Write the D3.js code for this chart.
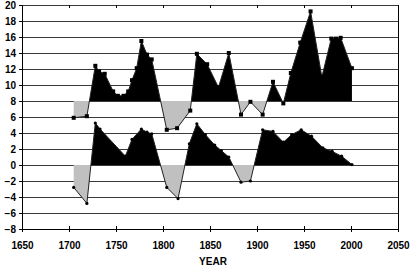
<!DOCTYPE html>
<html>
<head>
<meta charset="utf-8">
<script src="https://cdn.jsdelivr.net/npm/d3@7"></script>
<style>
  body { margin: 0; background: #fff; }
  svg text { font-family: "Liberation Sans", Arial, sans-serif; font-weight: bold; font-size: 10px; fill: #000; }
</style>
</head>
<body>
<svg id="chart" width="410" height="268"></svg>
<script>
// series
var upperYears  = [1705,1719,1728,1732,1738,1747,1752,1758,1763,1767,1772,1777,1783,1788,1804,1815,1829,1836,1847,1859,1870,1883,1893,1906,1917,1928,1936,1946,1957,1969,1979,1984,1989,2001];
var upperValues = [5.9,6.1,12.4,11.7,11.4,9.2,8.65,8.65,9.2,10.6,12.1,15.5,13.8,13.2,4.4,4.6,6.8,13.9,12.6,9.7,14.0,6.3,7.9,6.3,10.4,7.7,11.5,15.3,19.2,11.0,15.8,15.8,15.9,12.1];
var upperBase = 8;

var lowerYears  = [1705,1719,1728,1733,1760,1767,1777,1783,1788,1804,1816,1828,1836,1845,1855,1862,1870,1883,1893,1906,1917,1928,1937,1947,1958,1970,1980,1990,2001];
var lowerValues = [-2.8,-4.8,5.25,4.5,1.1,3.2,4.5,4.1,3.9,-2.8,-4.2,2.65,5.15,3.8,2.5,1.8,1.0,-2.15,-2.0,4.4,4.2,2.85,3.8,4.4,3.6,2.15,1.7,1.1,0.05];
var lowerBase = 0;

var xTicks = d3.range(1650, 2051, 50);
var yTicks = d3.range(-8, 21, 2);

var svg = d3.select("#chart");

// plot box
var x = d3.scaleLinear().domain([1650, 2050]).range([22, 398]);
var y = d3.scaleLinear().domain([-8, 20]).range([229, 5]);

// horizontal gridlines
svg.append("g")
  .selectAll("line")
  .data(yTicks)
  .join("line")
    .attr("x1", x(1650)).attr("x2", x(2050))
    .attr("y1", d => y(d) + 0.5).attr("y2", d => y(d) + 0.5)
    .attr("stroke", "#3a3a3a")
    .attr("stroke-width", 1);

// clip regions above / below a baseline
function addClips(id, base) {
  var defs = svg.append("defs");
  defs.append("clipPath").attr("id", id + "-up")
    .append("rect")
    .attr("x", x(1650)).attr("y", y(20))
    .attr("width", x(2050) - x(1650)).attr("height", y(base) - y(20));
  defs.append("clipPath").attr("id", id + "-dn")
    .append("rect")
    .attr("x", x(1650)).attr("y", y(base))
    .attr("width", x(2050) - x(1650)).attr("height", y(-8) - y(base));
}

function drawSeries(id, years, values, base, marker) {
  var pts = years.map((d, i) => [d, values[i]]);
  addClips(id, base);

  var area = d3.area()
    .x(d => x(d[0]))
    .y0(y(base))
    .y1(d => y(d[1]));

  svg.append("path")
    .attr("d", area(pts))
    .attr("fill", "#c0c0c0")
    .attr("clip-path", "url(#" + id + "-dn)");

  svg.append("path")
    .attr("d", area(pts))
    .attr("fill", "#000")
    .attr("clip-path", "url(#" + id + "-up)");

  var line = d3.line().x(d => x(d[0])).y(d => y(d[1]));
  svg.append("path")
    .attr("d", line(pts))
    .attr("fill", "none")
    .attr("stroke", "#222")
    .attr("stroke-width", 1);

  if (marker == "square") {
    svg.append("g").selectAll("rect")
      .data(pts)
      .join("rect")
        .attr("x", d => x(d[0]) - 2)
        .attr("y", d => y(d[1]) - 2)
        .attr("width", 4).attr("height", 4)
        .attr("fill", "#000");
  } else {
    svg.append("g").selectAll("circle")
      .data(pts)
      .join("circle")
        .attr("cx", d => x(d[0]))
        .attr("cy", d => y(d[1]))
        .attr("r", 1.6)
        .attr("fill", "#000");
  }
}

drawSeries("upper", upperYears, upperValues, upperBase, "square");
drawSeries("lower", lowerYears, lowerValues, lowerBase, "dot");

// y axis
var yAxis = d3.axisLeft(y)
  .tickValues(yTicks)
  .tickSize(3)
  .tickPadding(3)
  .tickFormat(d3.format("d"));

svg.append("g")
  .attr("transform", "translate(22,0)")
  .call(yAxis)
  .call(g => g.select(".domain").attr("stroke", "#000"))
  .call(g => g.selectAll(".tick line").attr("stroke", "#000"))
  .call(g => g.selectAll(".tick text").attr("font-size", null).attr("font-family", null));

// x axis, ticks crossing the line
var xAxis = d3.axisBottom(x)
  .tickValues(xTicks)
  .tickSizeInner(3)
  .tickSizeOuter(0)
  .tickPadding(10)
  .tickFormat(d3.format("d"));

svg.append("g")
  .attr("transform", "translate(0,229)")
  .call(xAxis)
  .call(g => g.select(".domain").attr("stroke", "#000"))
  .call(g => g.selectAll(".tick line").attr("stroke", "#000").attr("y1", -3))
  .call(g => g.selectAll(".tick text").attr("font-size", null).attr("font-family", null));

// small ticks hanging from the top edge
svg.append("g")
  .selectAll("line")
  .data(xTicks.slice(1, -1))
  .join("line")
    .attr("x1", d => x(d) + 0.5).attr("x2", d => x(d) + 0.5)
    .attr("y1", y(20)).attr("y2", y(20) + 3)
    .attr("stroke", "#000");

// right border
svg.append("line")
  .attr("x1", x(2050) + 0.5).attr("x2", x(2050) + 0.5)
  .attr("y1", y(20)).attr("y2", y(-8))
  .attr("stroke", "#000");

// axis title
svg.append("text")
  .attr("x", 213)
  .attr("y", 265)
  .attr("text-anchor", "middle")
  .text("YEAR");
</script>
</body>
</html>
